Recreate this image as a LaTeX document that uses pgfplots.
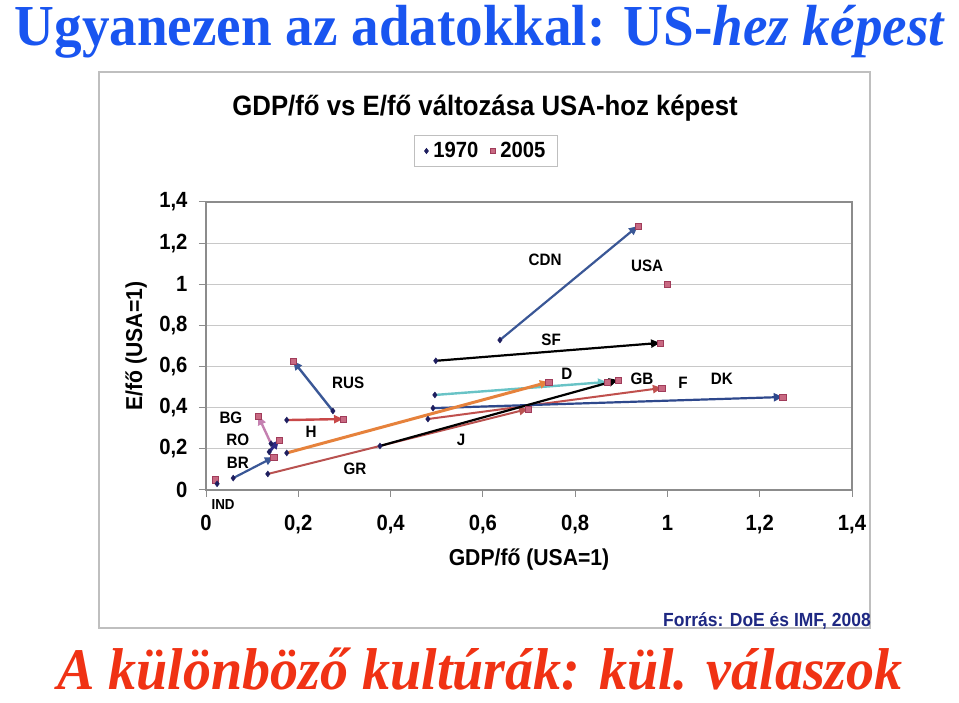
\documentclass[border=0pt]{standalone}
\usepackage{fontspec}
\setmainfont{Liberation Sans}
\newfontfamily\chartfont{Liberation Sans}[FakeStretch=0.92]
\newfontfamily\ttlfont{Liberation Serif}[FakeStretch=0.95]
\newfontfamily\btmfont{Liberation Serif}[FakeStretch=0.95]
\usepackage{pgfplots}
\pgfplotsset{compat=1.18}
\usetikzlibrary{arrows.meta}
\definecolor{ttlblue}{RGB}{25,85,240}
\definecolor{ttlred}{RGB}{240,50,20}
\definecolor{src}{RGB}{30,40,130}
\definecolor{dia}{RGB}{30,30,95}
\definecolor{sqc}{RGB}{200,105,130}
\definecolor{sqd}{RGB}{160,60,90}
\definecolor{cblue}{RGB}{58,87,150}
\definecolor{dkblue}{RGB}{46,72,140}
\definecolor{teal}{RGB}{105,195,198}
\definecolor{fred}{RGB}{192,80,77}
\definecolor{grred}{RGB}{185,82,80}
\definecolor{orng}{RGB}{230,130,60}
\definecolor{hred}{RGB}{200,72,72}
\definecolor{mauve}{RGB}{196,128,176}
\definecolor{ronavy}{RGB}{46,42,133}
\definecolor{gridc}{RGB}{200,200,200}
\definecolor{axc}{RGB}{140,140,140}
\begin{document}
\begin{tikzpicture}[x=1pt,y=1pt]
\useasboundingbox (0,0) rectangle (959,703);
\draw[gray!50, line width=1.3pt] (99,631) rectangle (870,75);
\begin{axis}[
  at={(206pt,213pt)}, anchor=south west, scale only axis,
  width=646pt, height=288pt,
  xmin=0, xmax=1.4, ymin=0, ymax=1.4,
  xtick={0,0.2,0.4,0.6,0.8,1,1.2,1.4},
  ytick={0,0.2,0.4,0.6,0.8,1,1.2,1.4},
  xtick pos=bottom, ytick pos=left,
  tick align=outside, major tick length=7pt,
  tick style={axc, line width=1pt},
  ymajorgrids, grid style={gridc, line width=1pt},
  axis line style={axc, line width=1.2pt},
  /pgf/number format/.cd, use comma, fixed, precision=1, assume math mode=true,
  /pgfplots/.cd,
  tick label style={font=\chartfont\bfseries\fontsize{22}{22}\selectfont},
  xticklabel style={yshift=-15pt},
  yticklabel style={xshift=-8pt},
  xlabel={GDP/fő (USA=1)},
  ylabel={E/fő (USA=1)},
  label style={font=\chartfont\bfseries\fontsize{23}{23}\selectfont},
  xlabel style={at={(rel axis cs:0.5,-0.243)}, anchor=center},
  ylabel style={at={(rel axis cs:-0.108,0.5)}, anchor=center},
  title={GDP/fő vs E/fő változása USA-hoz képest},
  title style={at={(rel axis cs:0.432,1.305)}, anchor=center, font=\chartfont\bfseries\fontsize{28}{28}\selectfont},
  legend style={at={(rel axis cs:0.4334,1.177)}, anchor=center, draw=gray!50, line width=0.8pt,
    font=\chartfont\bfseries\fontsize{22}{22}\selectfont, inner xsep=10pt, inner ysep=5pt,
    /tikz/every odd column/.append style={column sep=3pt},
    /tikz/every even column/.append style={column sep=10pt}},
  legend columns=2,
  legend cell align=left,
  clip=false,
  every axis plot/.append style={line cap=round},
]
\addlegendimage{only marks, mark=diamond*, mark size=2.5pt, dia}
\addlegendentry{1970}
\addlegendimage{only marks, mark=square*, mark size=2.5pt, draw=sqd, fill=sqc}
\addlegendentry{2005}
% 2005 squares
\addplot[forget plot, only marks, mark=square*, mark size=3.2pt, draw=sqd, fill=sqc] coordinates {
(0.936,1.283) (0.984,0.715) (0.869,0.525) (0.893,0.535) (0.988,0.496) (1.25,0.452)
(0.698,0.394) (0.743,0.525) (0.297,0.345) (0.189,0.627) (0.113,0.36) (0.158,0.243)
(0.147,0.16) (0.02,0.05) (1.0,1.0)};
% arrows
\addplot[forget plot, cblue, line width=2.2pt, -{Triangle[length=9pt,width=8pt]}] coordinates {(0.637,0.729) (0.936,1.283)};
\addplot[forget plot, black, line width=2.2pt, -{Triangle[length=9pt,width=8pt]}] coordinates {(0.498,0.628) (0.984,0.715)};
\addplot[forget plot, teal, line width=2.4pt, -{Triangle[length=9pt,width=8pt]}] coordinates {(0.496,0.462) (0.869,0.525)};
\addplot[forget plot, grred, line width=2pt, -{Triangle[length=9pt,width=8pt]}] coordinates {(0.134,0.078) (0.698,0.394)};
\addplot[forget plot, fred, line width=2pt, -{Triangle[length=9pt,width=8pt]}] coordinates {(0.481,0.345) (0.988,0.496)};
\addplot[forget plot, dkblue, line width=2.2pt, -{Triangle[length=9pt,width=8pt]}] coordinates {(0.492,0.398) (1.25,0.452)};
\addplot[forget plot, orng, line width=3pt, -{Triangle[length=9pt,width=8pt]}] coordinates {(0.175,0.180) (0.743,0.525)};
\addplot[forget plot, black, line width=2.2pt, -{Triangle[length=9pt,width=8pt]}] coordinates {(0.377,0.214) (0.893,0.535)};
\addplot[forget plot, hred, line width=2.4pt, -{Triangle[length=9pt,width=8pt]}] coordinates {(0.175,0.34) (0.297,0.345)};
\addplot[forget plot, cblue, line width=2.4pt, -{Triangle[length=9pt,width=8pt]}] coordinates {(0.275,0.384) (0.189,0.627)};
\addplot[forget plot, mauve, line width=2.4pt, -{Triangle[length=9pt,width=8pt]}] coordinates {(0.141,0.225) (0.113,0.36)};
\addplot[forget plot, ronavy, line width=3pt, -{Triangle[length=9pt,width=8pt]}] coordinates {(0.137,0.185) (0.158,0.243)};
\addplot[forget plot, cblue, line width=2.2pt, -{Triangle[length=9pt,width=8pt]}] coordinates {(0.059,0.058) (0.147,0.16)};
% 1970 diamonds
\addplot[forget plot, only marks, mark=diamond*, mark size=3pt, dia] coordinates {
(0.637,0.729) (0.498,0.628) (0.496,0.462) (0.377,0.214) (0.481,0.345) (0.492,0.398)
(0.134,0.078) (0.175,0.180) (0.175,0.34) (0.275,0.384) (0.141,0.225) (0.137,0.185)
(0.059,0.058) (0.024,0.03)};
% country labels
\begin{scope}[every node/.style={font=\chartfont\bfseries\fontsize{16.5}{16.5}\selectfont, inner sep=0pt}]
\node at (axis cs:0.735,1.118) {CDN};
\node at (axis cs:0.956,1.089) {USA};
\node at (axis cs:0.748,0.729) {SF};
\node at (axis cs:0.308,0.520) {RUS};
\node at (axis cs:0.782,0.564) {D};
\node at (axis cs:0.945,0.540) {GB};
\node at (axis cs:1.034,0.520) {F};
\node at (axis cs:1.118,0.540) {DK};
\node at (axis cs:0.054,0.350) {BG};
\node at (axis cs:0.228,0.282) {H};
\node at (axis cs:0.069,0.243) {RO};
\node at (axis cs:0.553,0.243) {J};
\node at (axis cs:0.069,0.131) {BR};
\node at (axis cs:0.323,0.102) {GR};
\node at (axis cs:0.037,-0.073) {\fontsize{14.5}{14.5}\selectfont IND};
\end{scope}
\end{axis}
\node[anchor=east, inner sep=0pt, text=src, font=\chartfont\bfseries\fontsize{19}{19}\selectfont] at (871,82) {Forrás: DoE és IMF, 2008};
\node[anchor=base, inner sep=0pt, text=ttlblue, font=\ttlfont\bfseries\fontsize{58}{58}\selectfont] at (480,657) {Ugyanezen az adatokkal: US-\textit{hez képest}};
\node[anchor=base, inner sep=0pt, text=ttlred, font=\btmfont\bfseries\itshape\fontsize{59}{59}\selectfont] at (480,13) {A különböző kultúrák: kül. válaszok};
\end{tikzpicture}
\end{document}
